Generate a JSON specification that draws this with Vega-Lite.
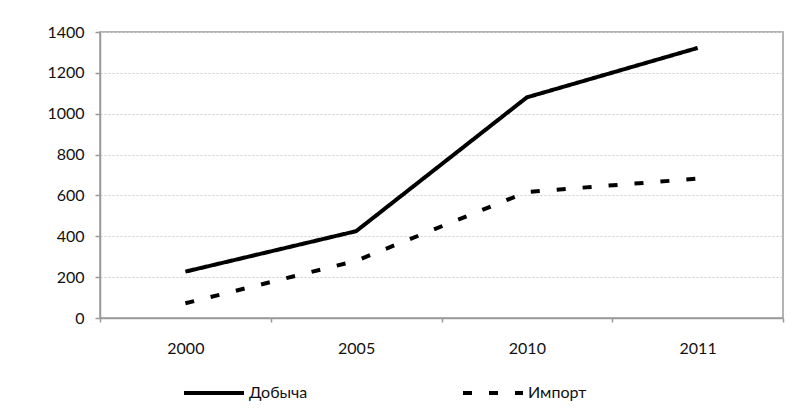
{
  "$schema": "https://vega.github.io/schema/vega-lite/v6.json",
  "width": 683,
  "height": 286,
  "autosize": {"type": "none"},
  "padding": {"left": 100, "top": 32, "right": 23, "bottom": 97},
  "background": "white",
  "data": {
    "values": [
      {"year": "2000", "series": "Добыча", "value": 227},
      {"year": "2005", "series": "Добыча", "value": 425},
      {"year": "2010", "series": "Добыча", "value": 1080},
      {"year": "2011", "series": "Добыча", "value": 1322},
      {"year": "2000", "series": "Импорт", "value": 72},
      {"year": "2005", "series": "Импорт", "value": 280},
      {"year": "2010", "series": "Импорт", "value": 617},
      {"year": "2011", "series": "Импорт", "value": 682}
    ]
  },
  "mark": {"type": "line", "strokeWidth": 4, "color": "black", "strokeCap": "butt", "strokeJoin": "miter"},
  "encoding": {
    "x": {
      "field": "year",
      "type": "ordinal",
      "bandPosition": 0.5,
      "scale": {"type": "band", "paddingInner": 0, "paddingOuter": 0},
      "axis": {
        "title": null,
        "labelAngle": 0,
        "tickBand": "extent",
        "tickSize": 4,
        "tickColor": "#9a9a9a",
        "tickWidth": 1.5,
        "domainColor": "#9a9a9a",
        "domainWidth": 1.5,
        "labelPadding": 18,
        "grid": false
      }
    },
    "y": {
      "field": "value",
      "type": "quantitative",
      "scale": {"domain": [0, 1400], "nice": false},
      "axis": {
        "title": null,
        "format": "d",
        "values": [0, 200, 400, 600, 800, 1000, 1200, 1400],
        "tickSize": 5,
        "tickColor": "#9a9a9a",
        "tickWidth": 1.5,
        "domainColor": "#9a9a9a",
        "domainWidth": 1.5,
        "labelPadding": 11,
        "grid": true,
        "gridColor": "#cfcfcf",
        "gridDash": [2, 2],
        "gridWidth": 1
      }
    },
    "strokeDash": {
      "field": "series",
      "type": "nominal",
      "scale": {"domain": ["Добыча", "Импорт"], "range": [[1, 0], [9, 17]]},
      "legend": {
        "title": null,
        "orient": "none",
        "direction": "horizontal",
        "legendX": 82,
        "legendY": 329,
        "symbolType": "stroke",
        "symbolSize": 3600,
        "symbolStrokeWidth": 4,
        "symbolStrokeColor": "black",
        "labelOffset": 3,
        "columnPadding": 147
      }
    }
  },
  "config": {
    "font": "Lato",
    "view": {"stroke": "#9a9a9a", "strokeWidth": 1.5},
    "axis": {"labelFont": "Lato", "labelFontSize": 16, "labelColor": "#111111"},
    "legend": {"labelFont": "Lato", "labelFontSize": 16, "labelColor": "#111111"}
  }
}
